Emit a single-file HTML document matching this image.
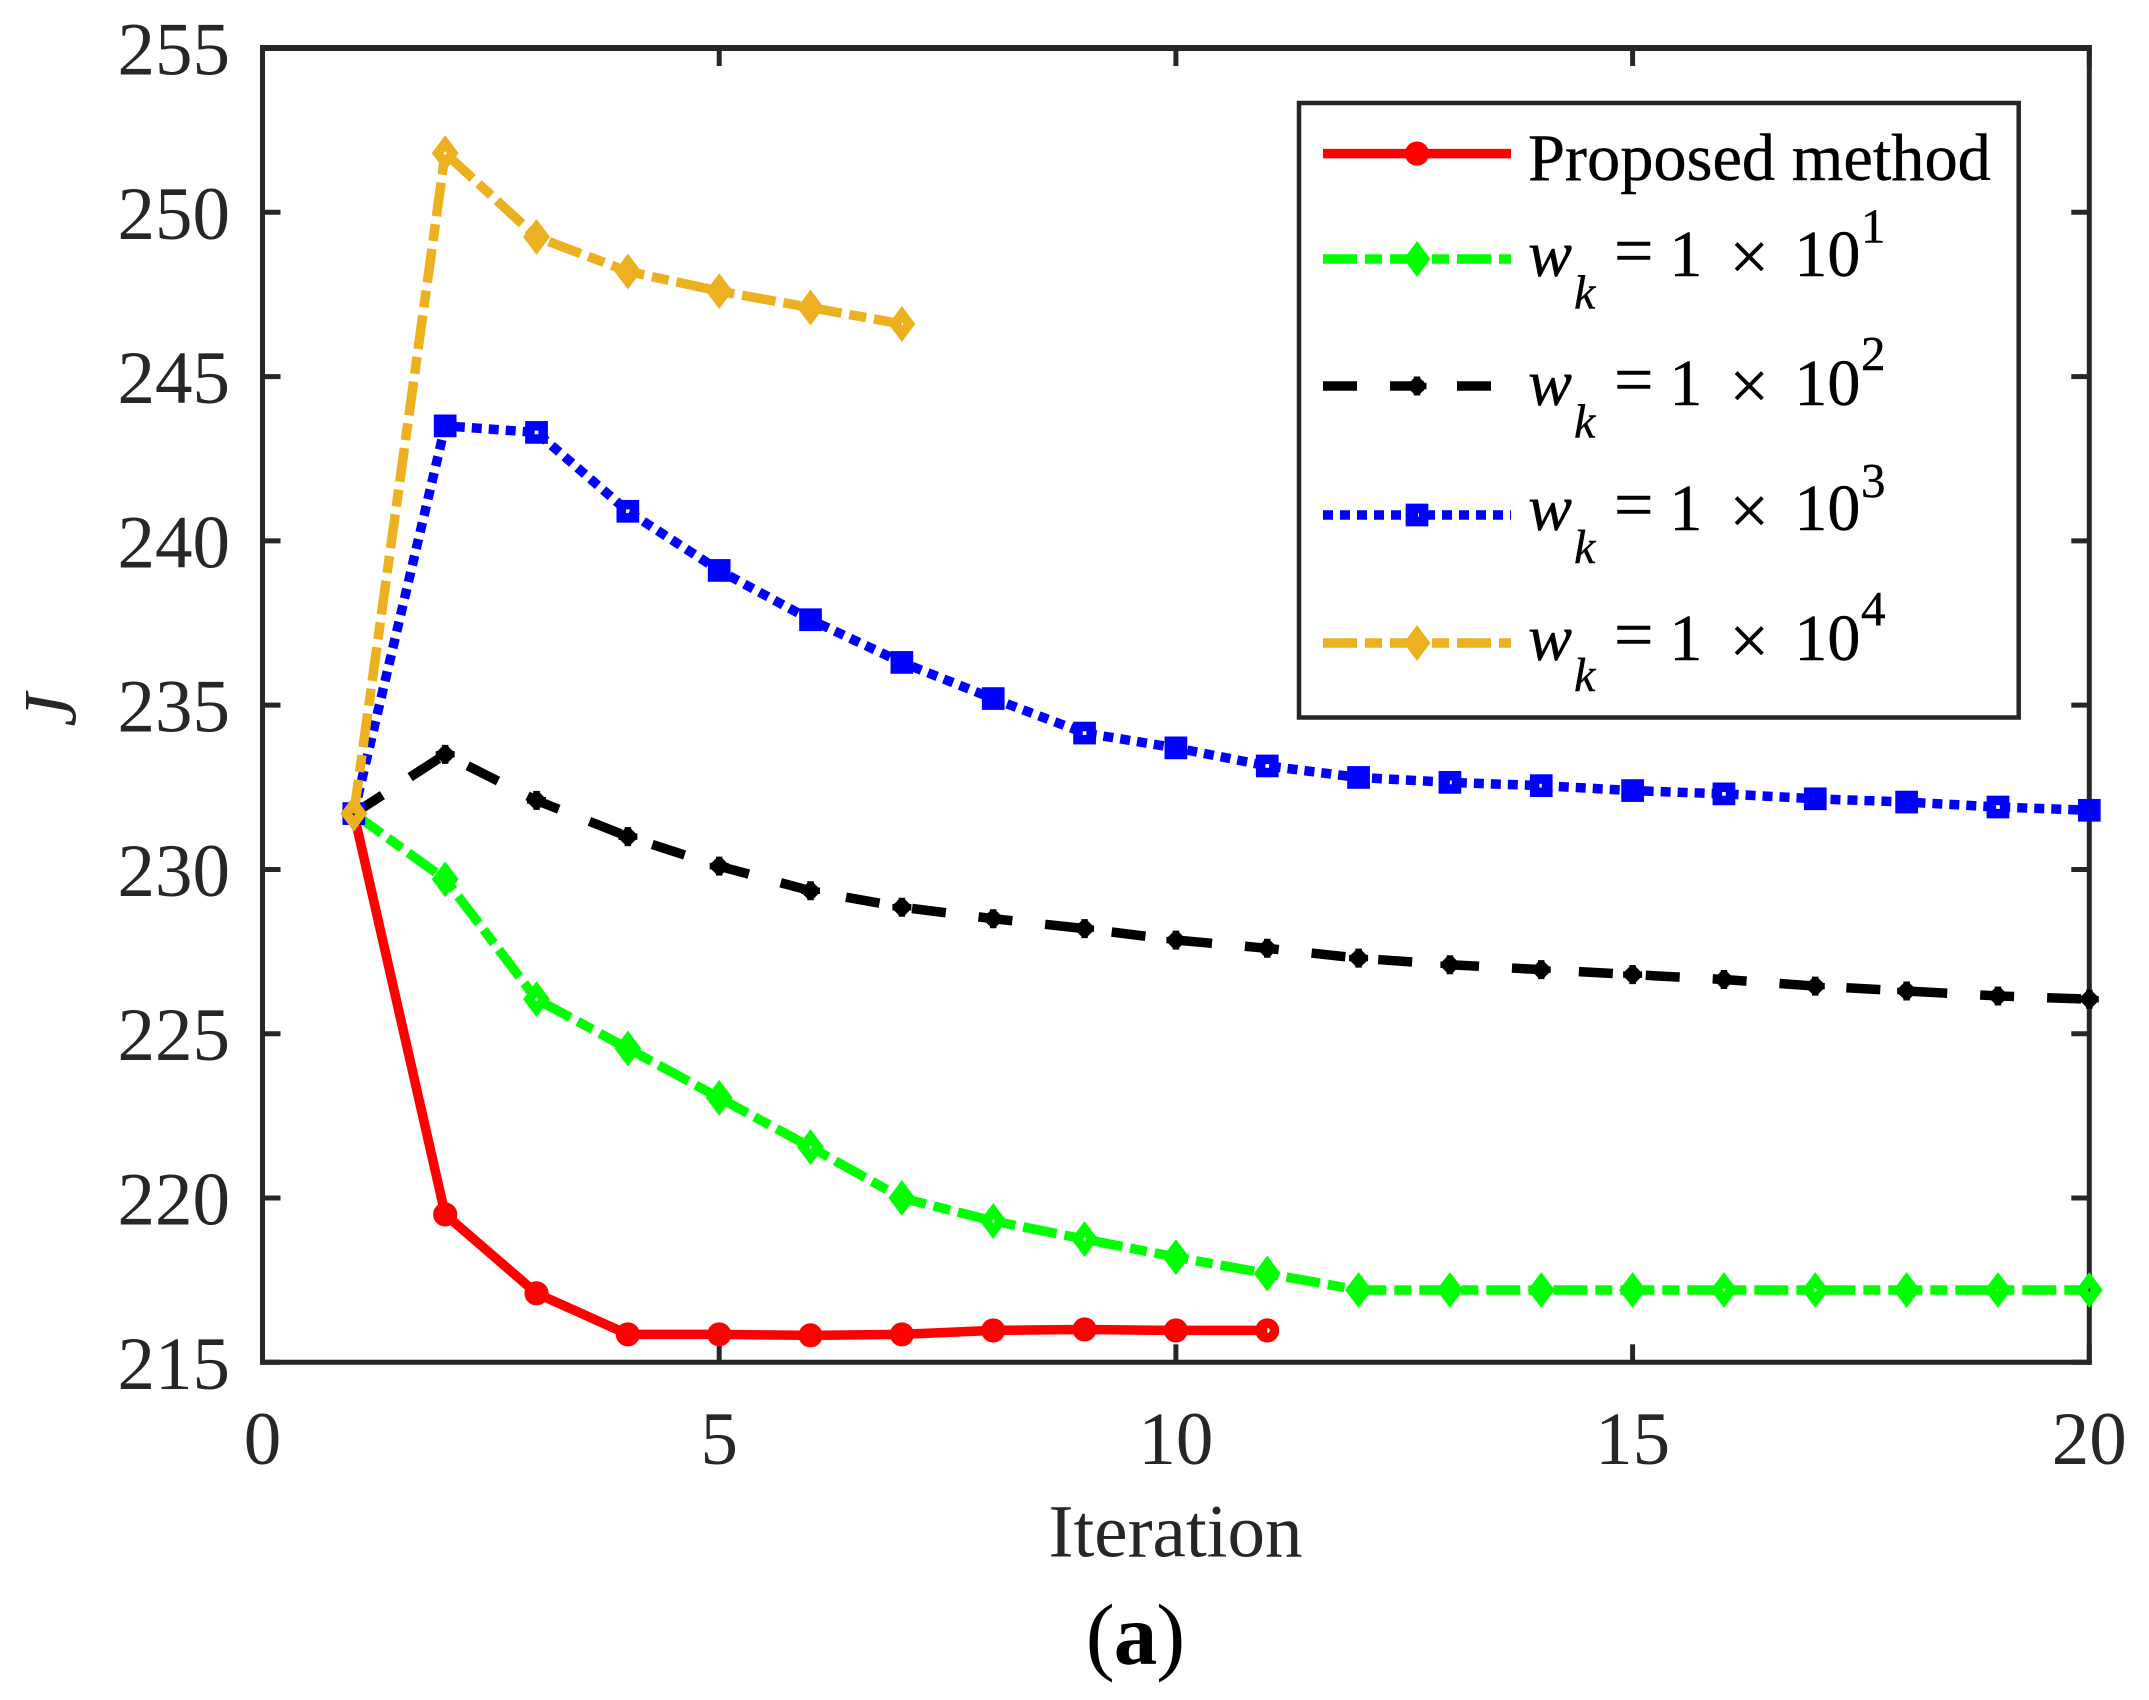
<!DOCTYPE html>
<html lang="en">
<head>
<meta charset="utf-8">
<title>J versus Iteration</title>
<style>
html,body{margin:0;padding:0;background:#fff;}
svg{display:block;}
text{font-family:"Liberation Serif",serif;}
#legend text{stroke:#000;stroke-width:0.4;}
</style>
</head>
<body>
<svg id="chart" xmlns="http://www.w3.org/2000/svg" width="2149" height="1700" viewBox="0 0 2149 1700">
  <rect x="0" y="0" width="2149" height="1700" fill="#fff"/>
  <g id="axes-ticks"></g>
  <g id="tick-labels" fill="#262626" font-size="75"></g>
  <g id="series"></g>
  <g id="axes-frame" stroke="#262626" fill="none">
    <line x1="262.5" y1="45" x2="262.5" y2="1364.7" stroke-width="5"/>
    <line x1="2089.3" y1="45" x2="2089.3" y2="1364.7" stroke-width="5"/>
    <line x1="260" y1="48" x2="2091.8" y2="48" stroke-width="6"/>
    <line x1="260" y1="1362.3" x2="2091.8" y2="1362.3" stroke-width="5"/>
  </g>
  <g id="overlay-series"></g>
  <text x="1175.5" y="1556.7" font-size="75" text-anchor="middle" fill="#262626">Iteration</text>
  <text transform="translate(75.5,710) rotate(-90)" font-size="75" font-style="italic" text-anchor="middle" fill="#262626">J</text>
  <text x="1135" y="1664" font-size="87" letter-spacing="-1" text-anchor="middle" fill="#000">(<tspan font-weight="bold">a</tspan>)</text>
  <g id="legend">
    <rect x="1299" y="103" width="719.7" height="614.5" fill="#fff" stroke="#262626" stroke-width="4.5"/>
    <text x="1528" y="180" font-size="66.4" fill="#000">Proposed method</text>
    <g id="legend-samples"></g>
    <g fill="#000">
      <text x="1528" y="276" font-size="66" font-style="italic">w</text><text x="1574" y="308.5" font-size="48" font-style="italic">k</text>
      <text x="1633.7" y="274" font-size="70" text-anchor="middle">=</text><text x="1669.4" y="276" font-size="66">1</text>
      <text x="1749.3" y="280" font-size="70" text-anchor="middle">×</text><text x="1794.4" y="276" font-size="66">10</text>
      <text x="1861" y="242.3" font-size="49">1</text>
    </g>
    <g fill="#000">
      <text x="1528" y="405" font-size="66" font-style="italic">w</text><text x="1574" y="437.7" font-size="48" font-style="italic">k</text>
      <text x="1633.7" y="403" font-size="70" text-anchor="middle">=</text><text x="1669.4" y="405" font-size="66">1</text>
      <text x="1749.3" y="409" font-size="70" text-anchor="middle">×</text><text x="1794.4" y="405" font-size="66">10</text>
      <text x="1861" y="370" font-size="49">2</text>
    </g>
    <g fill="#000">
      <text x="1528" y="530" font-size="66" font-style="italic">w</text><text x="1574" y="563" font-size="48" font-style="italic">k</text>
      <text x="1633.7" y="528" font-size="70" text-anchor="middle">=</text><text x="1669.4" y="530" font-size="66">1</text>
      <text x="1749.3" y="534" font-size="70" text-anchor="middle">×</text><text x="1794.4" y="530" font-size="66">10</text>
      <text x="1861" y="497" font-size="49">3</text>
    </g>
    <g fill="#000">
      <text x="1528" y="660" font-size="66" font-style="italic">w</text><text x="1574" y="691" font-size="48" font-style="italic">k</text>
      <text x="1633.7" y="658" font-size="70" text-anchor="middle">=</text><text x="1669.4" y="660" font-size="66">1</text>
      <text x="1749.3" y="664" font-size="70" text-anchor="middle">×</text><text x="1794.4" y="660" font-size="66">10</text>
      <text x="1861" y="625" font-size="49">4</text>
    </g>
  </g>
</svg>
<script>
// Chart data
const iterations = [1,2,3,4,5,6,7,8,9,10,11,12,13,14,15,16,17,18,19,20];
const proposedValues = [231.7,219.5,217.1,215.85,215.85,215.82,215.85,215.97,216,215.97,215.97];
const w1Values = [231.7,229.7,226.05,224.55,223.05,221.55,220,219.3,218.75,218.2,217.7,217.2,217.2,217.2,217.2,217.2,217.2,217.2,217.2,217.2];
const w2Values = [231.7,233.5,232.1,231,230.1,229.35,228.85,228.5,228.2,227.85,227.6,227.3,227.1,226.95,226.8,226.65,226.45,226.3,226.15,226.05];
const w3Values = [231.7,243.5,243.3,240.9,239.1,237.6,236.3,235.2,234.15,233.7,233.15,232.8,232.65,232.55,232.4,232.3,232.15,232.05,231.9,231.8];
const w4Values = [231.7,251.8,249.25,248.2,247.6,247.1,246.6];
const xTickLabels = [0,5,10,15,20];
const yTickLabels = [215,220,225,230,235,240,245,250,255];

const NS = 'http://www.w3.org/2000/svg';
const plot = {left:262.5,right:2089.3,top:48,bottom:1362.3,xMin:0,xMax:20,yMin:215,yMax:255};
function xScale(v){return plot.left+(v-plot.xMin)/(plot.xMax-plot.xMin)*(plot.right-plot.left);}
function yScale(v){return plot.bottom-(v-plot.yMin)/(plot.yMax-plot.yMin)*(plot.bottom-plot.top);}
function svgEl(tag){return document.createElementNS(NS,tag);}

const STROKE = 9.5;
const styles = {
  proposed:{color:'#ff0000',dash:'none',marker:'circle'},
  w1:{color:'#00ff00',dash:'34 8 17 8',marker:'diamond'},
  w2:{color:'#000000',dash:'34 33',marker:'star'},
  w3:{color:'#0000ff',dash:'10 7',marker:'square'},
  w4:{color:'#edb120',dash:'34 8 17 8',marker:'diamond'}
};

function drawMarker(parent,kind,cx,cy,color){
  let m;
  if(kind==='circle'){
    m=svgEl('circle');
    m.setAttribute('cx',cx);
    m.setAttribute('cy',cy);
    m.setAttribute('r',7.3);
  }else if(kind==='square'){
    m=svgEl('rect');
    m.setAttribute('x',cx-6.6);
    m.setAttribute('y',cy-6.6);
    m.setAttribute('width',13.2);
    m.setAttribute('height',13.2);
  }else if(kind==='diamond'){
    m=svgEl('polygon');
    m.setAttribute('points',[[cx-7.5,cy],[cx,cy-10],[cx+7.5,cy],[cx,cy+10]].map(function(p){return p.join(',');}).join(' '));
  }else{
    m=svgEl('path');
    m.setAttribute('d','M'+(cx-5.5)+' '+(cy-5.5)+'L'+(cx+5.5)+' '+(cy+5.5)+'M'+(cx-5.5)+' '+(cy+5.5)+'L'+(cx+5.5)+' '+(cy-5.5)+'M'+(cx-9.5)+' '+cy+'L'+(cx+9.5)+' '+cy+'M'+cx+' '+(cy-9.5)+'L'+cx+' '+(cy+9.5));
  }
  
  
  m.setAttribute('fill','none');
  m.setAttribute('stroke',color);
  m.setAttribute('stroke-width',kind==='star'?6.5:STROKE);
  m.setAttribute('stroke-miterlimit',20);
  parent.appendChild(m);
}

function drawSeries(key,values,label){
  const st=styles[key];
  const g=svgEl('g');
  
  
  const d=values.map(function(v,i){return (i?'L':'M')+xScale(iterations[i]).toFixed(2)+' '+yScale(v).toFixed(2);}).join('');
  const p=svgEl('path');
  
  
  p.setAttribute('d',d);
  p.setAttribute('fill','none');
  p.setAttribute('stroke',st.color);
  p.setAttribute('stroke-width',STROKE);
  p.setAttribute('stroke-linejoin','miter');
  if(st.dash!=='none'){p.setAttribute('stroke-dasharray',st.dash);}
  g.appendChild(p);
  values.forEach(function(v,i){drawMarker(g,st.marker,xScale(iterations[i]),yScale(v),st.color);});
  document.getElementById('overlay-series').appendChild(g);
}

// ticks and tick labels
const tickLen=18;
const tickGroup=document.getElementById('axes-ticks');
const labelGroup=document.getElementById('tick-labels');
xTickLabels.forEach(function(v){
  const x=xScale(v);
  [[plot.bottom,plot.bottom-tickLen],[plot.top,plot.top+tickLen]].forEach(function(seg){
    const t=svgEl('line');
    
    
    t.setAttribute('x1',x);
    t.setAttribute('x2',x);
    t.setAttribute('y1',seg[0]);
    t.setAttribute('y2',seg[1]);
    t.setAttribute('stroke','#262626');
    t.setAttribute('stroke-width',5);
    tickGroup.appendChild(t);
  });
  const l=svgEl('text');
  
  
  l.setAttribute('x',x);
  l.setAttribute('y',1464);
  l.setAttribute('text-anchor','middle');
  l.textContent=v;
  labelGroup.appendChild(l);
});
yTickLabels.forEach(function(v){
  const y=yScale(v);
  [[plot.left,plot.left+tickLen],[plot.right,plot.right-tickLen]].forEach(function(seg){
    const t=svgEl('line');
    
    
    t.setAttribute('x1',seg[0]);
    t.setAttribute('x2',seg[1]);
    t.setAttribute('y1',y);
    t.setAttribute('y2',y);
    t.setAttribute('stroke','#262626');
    t.setAttribute('stroke-width',5);
    tickGroup.appendChild(t);
  });
  const l=svgEl('text');
  
  
  l.setAttribute('x',230);
  l.setAttribute('y',y+26.5);
  l.setAttribute('text-anchor','end');
  l.textContent=v;
  labelGroup.appendChild(l);
});

drawSeries('proposed',proposedValues,'series-proposed-method');
drawSeries('w1',w1Values,'series-w1');
drawSeries('w2',w2Values,'series-w2');
drawSeries('w3',w3Values,'series-w3');
drawSeries('w4',w4Values,'series-w4');

// legend samples
const legendGroup=document.getElementById('legend-samples');
[['proposed',153.6],['w1',259],['w2',386],['w3',515],['w4',643]].forEach(function(row){
  const st=styles[row[0]];
  const p=svgEl('line');
  
  
  p.setAttribute('x1',1323);
  p.setAttribute('x2',1511);
  p.setAttribute('y1',row[1]);
  p.setAttribute('y2',row[1]);
  p.setAttribute('stroke',st.color);
  p.setAttribute('stroke-width',STROKE);
  if(st.dash!=='none'){p.setAttribute('stroke-dasharray',st.dash);}
  legendGroup.appendChild(p);
  drawMarker(legendGroup,st.marker,1417,row[1],st.color);
});
</script>
</body>
</html>
